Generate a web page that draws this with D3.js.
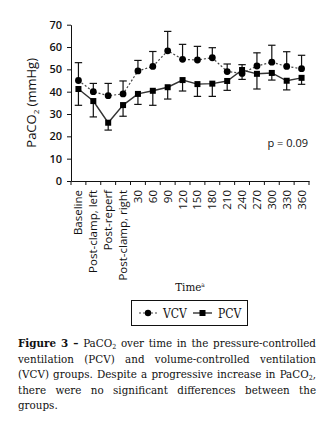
<!DOCTYPE html>
<html>
<head>
<meta charset="utf-8">
<script src="https://cdn.jsdelivr.net/npm/d3@7"></script>
<style>
  body { margin: 0; background: #fff; }
  #chart { position: relative; width: 333px; height: 435px; }
  .caption {
    position: absolute; left: 18px; top: 336px; width: 298px;
    font-family: "DejaVu Serif Condensed", "DejaVu Serif", serif;
    font-size: 11.5px; line-height: 15.5px; color: #111;
  }
  .caption .ln { height: 15.5px; text-align: justify; text-align-last: justify; white-space: nowrap; }
  .caption .ln.last { text-align-last: left; }
  .caption b { font-weight: 900; }
  .caption sub { font-size: 7px; line-height: 0; vertical-align: -2px; }
</style>
</head>
<body>
<div id="chart"></div>
<script>
(function () {
const container = d3.select("#chart");

// categories and readings (PaCO2, mmHg)
const times = ["Baseline", "Post-clamp, left", "Post-reperf", "Post-clamp, right",
  "30", "60", "90", "120", "150", "180", "210", "240", "270", "300", "330", "360"];
const vcvMean = [45, 40, 38.2, 39, 49.3, 51.3, 58.3, 54.5, 54.2, 55.2, 49, 48.2, 51.5, 53.2, 51.3, 50.3];
const vcvBarEnd = [53, 43.7, 43.7, 44.8, 54, 58, 67, 61.2, 60.3, 59.7, 52.4, 45.5, 57.4, 60.8, 57.9, 56.3];
const pcvMean = [41.2, 35.8, 26.1, 34, 39, 40.4, 42, 45.2, 43.4, 43.6, 44.8, 49.7, 48, 48.4, 44.9, 46.2];
const pcvBarEnd = [33.9, 28.7, 22.8, 29, 34.3, 33.9, 36.7, 40.3, 37.9, 37.9, 40.6, 52.1, 41.2, 45.2, 40.8, 43.3];
const yTicks = [0, 10, 20, 30, 40, 50, 60, 70];

const svg = container.append("svg")
  .attr("width", 333)
  .attr("height", 435);

const left = 71, right = 309, top = 24.7, bottom = 181;
const axisFont = "'Open Sans', 'DejaVu Sans', sans-serif";
const textFont = "'DejaVu Serif Condensed', 'DejaVu Serif', serif";

const x = d3.scaleBand()
  .domain(times)
  .range([left, right])
  .padding(0);

const y = d3.scaleLinear()
  .domain([0, 70])
  .range([bottom, top]);

const cx = d => x(d) + x.bandwidth() / 2;

// y axis
const yAxis = svg.append("g")
  .attr("transform", `translate(${left},0)`)
  .call(d3.axisLeft(y).tickValues(yTicks).tickSize(4).tickPadding(5).tickSizeOuter(0));
yAxis.selectAll("text")
  .style("font-family", axisFont)
  .style("font-size", "11px")
  .style("font-weight", "600")
  .attr("fill", "#111");
yAxis.selectAll("line, path").attr("stroke", "#111");

// x axis: labels at band centres, ticks on band edges
const xAxis = svg.append("g")
  .attr("transform", `translate(0,${bottom})`)
  .call(d3.axisBottom(x).tickSize(0).tickSizeOuter(0));
xAxis.select(".domain").attr("stroke", "#111");
xAxis.selectAll("text")
  .style("font-family", axisFont)
  .style("font-size", "11.5px")
  .attr("fill", "#111")
  .attr("transform", "rotate(-90)")
  .attr("text-anchor", "end")
  .attr("x", -9)
  .attr("y", 0)
  .attr("dy", "0.35em");

const edges = times.map(d => x(d)).concat([right]);
svg.append("g")
  .selectAll("line")
  .data(edges)
  .join("line")
  .attr("x1", d => d)
  .attr("x2", d => d)
  .attr("y1", bottom)
  .attr("y2", bottom + 4)
  .attr("stroke", "#111");

// y title
svg.append("text")
  .attr("transform", `translate(36,${(top + bottom) / 2}) rotate(-90)`)
  .attr("text-anchor", "middle")
  .style("font-family", axisFont)
  .style("font-size", "13px")
  .attr("fill", "#111")
  .call(t => {
    t.append("tspan").text("PaCO");
    t.append("tspan").attr("dy", 3).style("font-size", "8px").text("2");
    t.append("tspan").attr("dy", -3).text(" (mmHg)");
  });

// error bars
function errorBars(means, ends) {
  const g = svg.append("g").attr("stroke", "#111").attr("stroke-width", 1.2);
  times.forEach((t, i) => {
    g.append("line")
      .attr("x1", cx(t)).attr("x2", cx(t))
      .attr("y1", y(means[i])).attr("y2", y(ends[i]));
    g.append("line")
      .attr("x1", cx(t) - 3.7).attr("x2", cx(t) + 3.7)
      .attr("y1", y(ends[i])).attr("y2", y(ends[i]));
  });
}
errorBars(vcvMean, vcvBarEnd);
errorBars(pcvMean, pcvBarEnd);

const line = d3.line()
  .x((d, i) => cx(times[i]))
  .y(d => y(d));

// VCV: dotted line, circles
svg.append("path")
  .datum(vcvMean)
  .attr("fill", "none")
  .attr("stroke", "#444")
  .attr("stroke-width", 1.2)
  .attr("stroke-dasharray", "2,2")
  .attr("d", line);

// PCV: solid line, squares
svg.append("path")
  .datum(pcvMean)
  .attr("fill", "none")
  .attr("stroke", "#333")
  .attr("stroke-width", 1.4)
  .attr("d", line);

svg.append("g")
  .selectAll("circle")
  .data(vcvMean)
  .join("circle")
  .attr("cx", (d, i) => cx(times[i]))
  .attr("cy", d => y(d))
  .attr("r", 3.4)
  .attr("fill", "#000");

svg.append("g")
  .selectAll("rect")
  .data(pcvMean)
  .join("rect")
  .attr("x", (d, i) => cx(times[i]) - 3)
  .attr("y", d => y(d) - 3)
  .attr("width", 6)
  .attr("height", 6)
  .attr("fill", "#000");

// p value
svg.append("text")
  .attr("x", 308)
  .attr("y", 147)
  .attr("text-anchor", "end")
  .style("font-family", axisFont)
  .style("font-size", "11px")
  .attr("fill", "#111")
  .text("p = 0.09");

// x title
svg.append("text")
  .attr("x", 190)
  .attr("y", 291)
  .attr("text-anchor", "middle")
  .style("font-family", textFont)
  .style("font-size", "11.5px")
  .attr("fill", "#111")
  .call(t => {
    t.append("tspan").text("Time");
    t.append("tspan").attr("dy", -4).style("font-size", "6.5px").text("a");
  });

// legend
const legend = svg.append("g");
legend.append("rect")
  .attr("x", 131.5).attr("y", 300.5)
  .attr("width", 116).attr("height", 25)
  .attr("fill", "none")
  .attr("stroke", "#111");
legend.append("line")
  .attr("x1", 139).attr("x2", 157).attr("y1", 313).attr("y2", 313)
  .attr("stroke", "#444").attr("stroke-width", 1.2).attr("stroke-dasharray", "2,2");
legend.append("circle")
  .attr("cx", 148).attr("cy", 313).attr("r", 3.2).attr("fill", "#000");
legend.append("text")
  .attr("x", 163).attr("y", 317.5)
  .style("font-family", textFont)
  .style("font-size", "12px")
  .attr("fill", "#111")
  .text("VCV");
legend.append("line")
  .attr("x1", 193).attr("x2", 212).attr("y1", 313).attr("y2", 313)
  .attr("stroke", "#333").attr("stroke-width", 1.4);
legend.append("rect")
  .attr("x", 199.5).attr("y", 310).attr("width", 6).attr("height", 6).attr("fill", "#000");
legend.append("text")
  .attr("x", 218).attr("y", 317.5)
  .style("font-family", textFont)
  .style("font-size", "12px")
  .attr("fill", "#111")
  .text("PCV");

// caption
const caption = container.append("div").attr("class", "caption");
const lines = [
  "<b>Figure 3 –</b> PaCO<sub>2</sub> over time in the pressure-controlled",
  "ventilation (PCV) and volume-controlled ventilation",
  "(VCV) groups. Despite a progressive increase in PaCO<sub>2</sub>,",
  "there were no significant differences between the",
  "groups."
];
caption.selectAll("div")
  .data(lines)
  .join("div")
  .attr("class", (d, i) => i === lines.length - 1 ? "ln last" : "ln")
  .html(d => d);
})();
</script>
</body>
</html>
